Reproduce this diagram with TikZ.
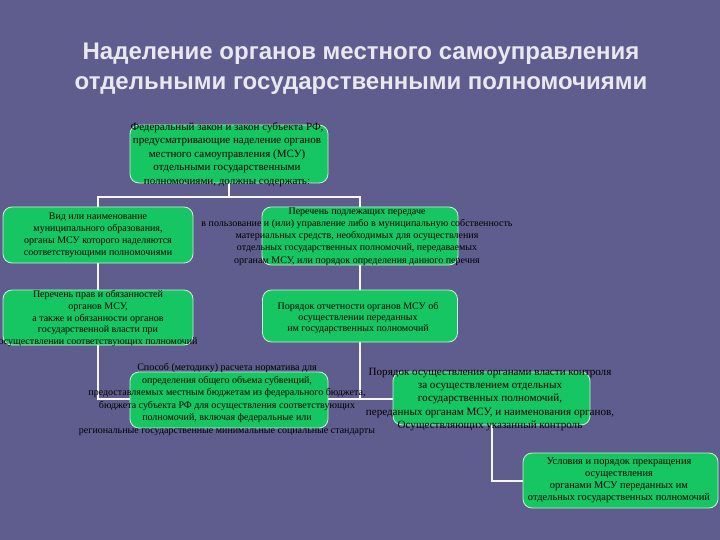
\documentclass[tikz,border=0pt]{standalone}
\usepackage{fontspec}
\setmainfont{Liberation Serif}
\newfontfamily\titlefont{Liberation Sans}
\usetikzlibrary{backgrounds}
\pgfdeclarelayer{bgfill}
\pgfsetlayers{bgfill,background,main}
\definecolor{bgc}{RGB}{95,93,141}
\definecolor{boxg}{RGB}{22,198,98}
\definecolor{boxedge}{RGB}{200,240,215}
\definecolor{titlec}{RGB}{232,232,240}
\definecolor{linec}{RGB}{245,245,250}
\begin{document}
\begin{tikzpicture}[x=1pt,y=-1pt,
  gbox/.style={draw=boxedge, line width=0.8pt, fill=boxg, rounded corners=9pt, inner sep=0pt},
  btext/.style={text=black, align=center, inner sep=0pt},
  conn/.style={draw=linec, line width=2pt}]
\begin{pgfonlayer}{bgfill}
\fill[bgc] (0,0) rectangle (720,540);
\end{pgfonlayer}
\useasboundingbox (0,0) rectangle (720,540);

\node[font=\titlefont\bfseries\fontsize{24}{30}\selectfont, text=titlec, align=center] (title) at (361,68.5)
  {Наделение органов местного самоуправления\\отдельными государственными полномочиями};

\node[gbox, minimum width=198pt, minimum height=58pt] (b1) at (229,154) {};
\node[gbox, minimum width=190pt, minimum height=56pt] (b2) at (98,235) {};
\node[gbox, minimum width=196pt, minimum height=58pt] (b3) at (360,236) {};
\node[gbox, minimum width=190pt, minimum height=55pt] (b4) at (98,317.5) {};
\node[gbox, minimum width=195pt, minimum height=52pt] (b5) at (360,316) {};
\node[gbox, minimum width=198pt, minimum height=56pt] (b6) at (229,400) {};
\node[gbox, minimum width=197pt, minimum height=53pt] (b7) at (491.5,398.5) {};
\node[gbox, minimum width=195pt, minimum height=55pt] (b8) at (620.5,480.5) {};

\node[btext, font=\fontsize{11}{13.5}\selectfont] (t1) at (227,154.5)
  {Федеральный закон и закон субъекта РФ,\\предусматривающие наделение органов\\местного самоуправления (МСУ)\\отдельными государственными\\полномочиями, должны содержать:};
\node[btext, font=\fontsize{10}{12}\selectfont] (t2) at (98,235)
  {Вид или наименование\\муниципального образования,\\органы МСУ которого наделяются\\соответствующими полномочиями};
\node[btext, font=\fontsize{10}{12.2}\selectfont] (t3) at (357,236.5)
  {Перечень подлежащих передаче\\в пользование и (или) управление либо в муниципальную собственность\\материальных средств, необходимых для осуществления\\отдельных государственных полномочий, передаваемых\\органам МСУ, или порядок определения данного перечня};
\node[btext, font=\fontsize{10}{11.8}\selectfont] (t4) at (98,318.5)
  {Перечень прав и обязанностей\\органов МСУ,\\а также и обязанности органов\\государственной власти при\\осуществлении соответствующих полномочий};
\node[btext, font=\fontsize{10}{11}\selectfont] (t5) at (358,318)
  {Порядок отчетности органов МСУ об\\осуществлении переданных\\им государственных полномочий};
\node[btext, font=\fontsize{10}{12.6}\selectfont] (t6) at (227,399.5)
  {Способ (методику) расчета норматива для\\определения общего объема субвенций,\\предоставляемых местным бюджетам из федерального бюджета,\\бюджета субъекта РФ для осуществления соответствующих\\полномочий, включая федеральные или\\региональные государственные минимальные социальные стандарты};
\node[btext, font=\fontsize{11.1}{13.2}\selectfont] (t7) at (490,399.5)
  {Порядок осуществления органами власти контроля\\за осуществлением отдельных\\государственных полномочий,\\переданных органам МСУ, и наименования органов,\\Осуществляющих указанный контроль};
\node[btext, font=\fontsize{10.4}{12}\selectfont] (t8) at (619,480)
  {Условия и порядок прекращения\\осуществления\\органами МСУ переданных им\\отдельных государственных полномочий};

\begin{pgfonlayer}{background}
\draw[conn] (b2.north) -- ++(0,-10) coordinate (h1) -- (h1 -| b3.north) -- (b3.north);
\draw[conn] (b1.south) -- (b1.south |- h1);
\draw[conn] (b2.south) -- (b4.north);
\draw[conn] (b3.south) -- (b5.north);
\draw[conn] (b4.south) |- (b7.west);
\draw[conn] (b5.south) -- (b5.south |- b7.west);
\draw[conn] (b7.south) |- (b8.west);
\end{pgfonlayer}
\end{tikzpicture}
\end{document}
